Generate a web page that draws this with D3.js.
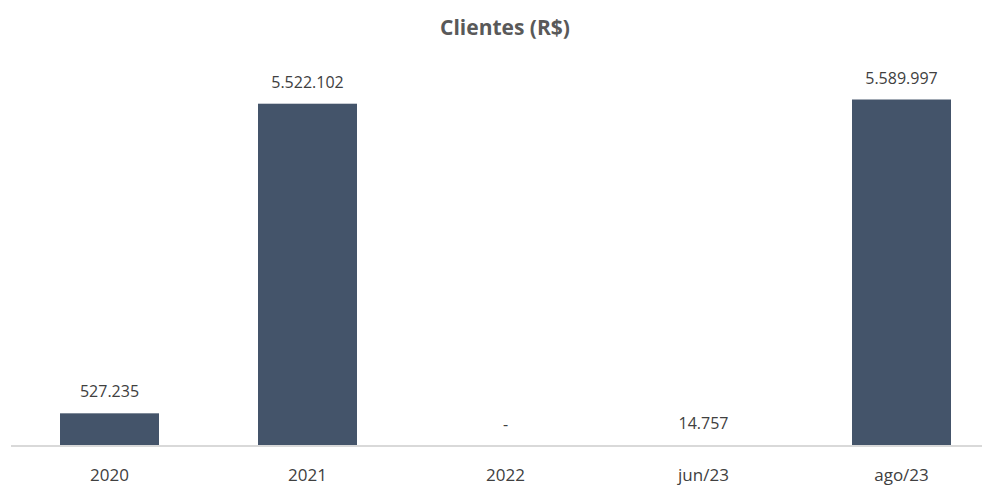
<!DOCTYPE html>
<html>
<head>
<meta charset="utf-8">
<script src="https://cdn.jsdelivr.net/npm/d3@7"></script>
<style>
  body { margin: 0; background: #fff; }
  svg { display: block; font-family: "Open Sans", sans-serif; }
</style>
</head>
<body>
<svg id="chart" width="982" height="485"></svg>
<script>
// Chart data
const categories = ["2020", "2021", "2022", "jun/23", "ago/23"];
const values = [527235, 5522102, 0, 14757, 5589997];
const valueLabels = ["527.235", "5.522.102", "-", "14.757", "5.589.997"];
const title = "Clientes (R$)";

const width = 982, height = 485;
const svg = d3.select("#chart");

const baseY = 446;

// Scales
const xScale = d3.scaleBand()
    .domain(categories)
    .range([10.5, 1000.5])
    .paddingInner(0.5)
    .paddingOuter(0.25);

const yScale = d3.scaleLinear()
    .domain([0, 5589997])
    .range([baseY, 99.5]);

// Title
svg.append("text")
    .attr("x", 505)
    .attr("y", 35)
    .attr("text-anchor", "middle")
    .attr("font-size", "21px")
    .attr("font-weight", "bold")
    .attr("fill", "#595959")
    .text(title);

// Bars
svg.selectAll("rect.bar")
    .data(categories)
    .enter()
    .append("rect")
    .attr("class", "bar")
    .attr("x", d => xScale(d))
    .attr("width", xScale.bandwidth())
    .attr("y", (d, i) => yScale(values[i]))
    .attr("height", (d, i) => baseY - yScale(values[i]))
    .attr("fill", "#44546a");

// Axis line (drawn over the bar bottoms)
svg.append("line")
    .attr("x1", 11)
    .attr("x2", width)
    .attr("y1", baseY)
    .attr("y2", baseY)
    .attr("stroke", "#d9d9d9")
    .attr("stroke-width", 2);

// Value labels
svg.selectAll("text.value")
    .data(categories)
    .enter()
    .append("text")
    .attr("class", "value")
    .attr("x", d => xScale(d) + xScale.bandwidth() / 2)
    .attr("y", (d, i) => yScale(values[i]) - 16)
    .attr("text-anchor", "middle")
    .attr("font-size", "16px")
    .attr("fill", "#404040")
    .text((d, i) => valueLabels[i]);

// Category labels
svg.selectAll("text.cat")
    .data(categories)
    .enter()
    .append("text")
    .attr("class", "cat")
    .attr("x", d => xScale(d) + xScale.bandwidth() / 2)
    .attr("y", 481)
    .attr("text-anchor", "middle")
    .attr("font-size", "17px")
    .attr("fill", "#404040")
    .text(d => d);
</script>
</body>
</html>
